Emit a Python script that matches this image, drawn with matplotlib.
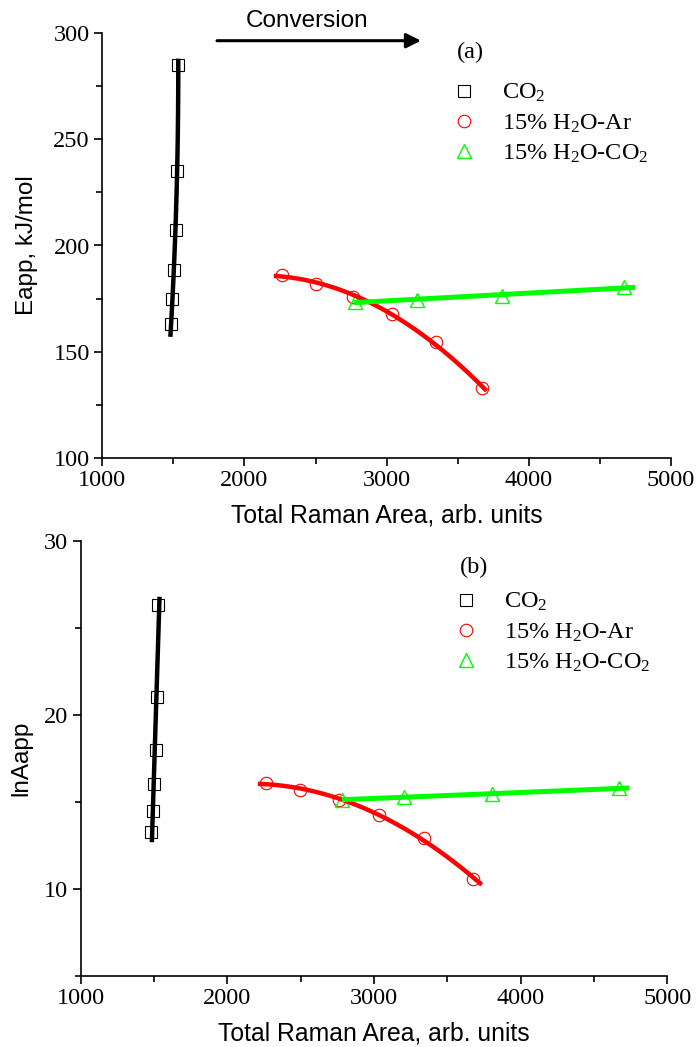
import numpy as np
import matplotlib.pyplot as plt
from matplotlib.ticker import MultipleLocator

plt.rcParams['font.family'] = ['Liberation Serif', 'DejaVu Serif']
plt.rcParams['mathtext.fontset'] = 'custom'
plt.rcParams['mathtext.rm'] = 'Liberation Serif'
plt.rcParams['mathtext.it'] = 'Liberation Serif:italic'

# (a) apparent activation energy
a_co2_x = [1483, 1492, 1506, 1516, 1523, 1535]
a_co2_y = [163.1, 174.7, 188.5, 207.4, 234.9, 285.2]
a_ar_x = [2266, 2501, 2761, 3040, 3345, 3673]
a_ar_y = [186.2, 181.8, 175.9, 167.6, 154.7, 132.7]
a_hc_x = [2777, 3211, 3809, 4672]
a_hc_y = [173.6, 174.4, 176.3, 180.4]
# fit line extents (CO2 by y, the others by x)
a_co2_fit = [158, 287]
a_ar_fit = [2222, 3692]
a_hc_fit = [2789, 4731]

# (b) ln of pre-exponential factor
b_co2_x = [1479, 1491, 1500, 1513, 1522, 1529]
b_co2_y = [13.24, 14.48, 16.0, 18.0, 21.0, 26.3]
b_ar_x = [2262, 2498, 2759, 3035, 3344, 3677]
b_ar_y = [16.09, 15.67, 15.10, 14.24, 12.9, 10.56]
b_hc_x = [2783, 3202, 3808, 4671]
b_hc_y = [15.10, 15.29, 15.44, 15.77]
b_co2_fit = [12.8, 26.65]
b_ar_fit = [2223, 3723]
b_hc_fit = [2798, 4723]

labels = ['CO$_2$', '15% H$_2$O-Ar', '15% H$_2$O-CO$_2$']
GREEN = '#00ff00'
RED = '#ff0000'

W, H = 697, 1047
fig = plt.figure(figsize=(W / 100, H / 100), dpi=100)


def fx(px):
    return px / W


def fy(py):
    return 1 - py / H


def panel(rect, co2, ar, hc, fits, co2_deg, hc_deg, ylim, ymaj, ymin_, ylabel, ypad, tag, leg_top):
    ax = fig.add_axes(rect)
    (cx, cy), (rx, ry), (gx, gy) = co2, ar, hc
    f_co2, f_ar, f_hc = fits

    kw = dict(linestyle='none', mfc='none', zorder=2)
    ax.plot(cx, cy, marker='s', ms=8, mec='black', mew=0.8, label=labels[0], **kw)
    ax.plot(rx, ry, marker='o', ms=9, mec=RED, mew=0.8, label=labels[1], **kw)
    ax.plot(gx, gy, marker='^', ms=10, mec=GREEN, mew=1.0, label=labels[2], **kw)

    # fitted curves
    yy = np.linspace(f_co2[0], f_co2[1], 100)
    ax.plot(np.polyval(np.polyfit(cy, cx, co2_deg), yy), yy, color='black', lw=3.2, zorder=3)
    xx = np.linspace(f_ar[0], f_ar[1], 100)
    ax.plot(xx, np.polyval(np.polyfit(rx, ry, 2), xx), color=RED, lw=3.2, zorder=3)
    xx = np.linspace(f_hc[0], f_hc[1], 100)
    ax.plot(xx, np.polyval(np.polyfit(gx, gy, hc_deg), xx), color=GREEN, lw=3.6, zorder=3)

    ax.set_xlim(1000, 5000)
    ax.set_ylim(*ylim)
    ax.xaxis.set_major_locator(MultipleLocator(1000))
    ax.xaxis.set_minor_locator(MultipleLocator(500))
    ax.yaxis.set_major_locator(MultipleLocator(ymaj))
    ax.yaxis.set_minor_locator(MultipleLocator(ymin_))
    for s in ['top', 'right']:
        ax.spines[s].set_visible(False)
    for s in ['left', 'bottom']:
        ax.spines[s].set_linewidth(1.2)
    ax.tick_params(which='major', direction='out', length=6, width=1.2, labelsize=17.5, pad=3)
    ax.tick_params(which='minor', direction='out', length=4, width=1.2)
    ax.set_xlabel('Total Raman Area, arb. units', family='Liberation Sans', fontsize=17.8, labelpad=9)
    ax.set_ylabel(ylabel, family='Liberation Sans', fontsize=17.5, labelpad=ypad)

    ax.text(tag[1], tag[2], tag[0], transform=fig.transFigure, fontsize=17.5,
            ha='center', va='center')
    ax.legend(loc='upper left', bbox_to_anchor=(fx(leg_top[0]), fy(leg_top[1])),
              bbox_transform=fig.transFigure, frameon=False, fontsize=17.5,
              handlelength=1.0, handletextpad=1.05, labelspacing=0.33,
              borderpad=0, borderaxespad=0)
    return ax


ax1 = panel([fx(102.3), fy(457.7), fx(671) - fx(102.3), fy(33.3) - fy(457.7)],
            (a_co2_x, a_co2_y), (a_ar_x, a_ar_y), (a_hc_x, a_hc_y),
            (a_co2_fit, a_ar_fit, a_hc_fit), 2, 1,
            (100, 300), 50, 25, 'Eapp, kJ/mol', 11, ('(a)', fx(470), fy(52)), (452, 82))
ax1.set_yticks([100, 150, 200, 250, 300])

ax2 = panel([fx(80.7), fy(975.7), fx(667.3) - fx(80.7), fy(540.7) - fy(975.7)],
            (b_co2_x, b_co2_y), (b_ar_x, b_ar_y), (b_hc_x, b_hc_y),
            (b_co2_fit, b_ar_fit, b_hc_fit), 1, 2,
            (5, 30), 10, 5, 'lnAapp', 8, ('(b)', fx(474), fy(567)), (454, 591))
ax2.set_yticks([10, 20, 30])

# conversion arrow
fig.text(fx(307), fy(21), 'Conversion', family='Liberation Sans', fontsize=17.5,
         ha='center', va='center')
ax1.annotate('', xy=(fx(421), fy(40.7)), xytext=(fx(217), fy(40.7)),
             xycoords='figure fraction', textcoords='figure fraction',
             arrowprops=dict(arrowstyle='-|>', lw=2.2, color='black', mutation_scale=22,
                             shrinkA=0, shrinkB=0))

fig.savefig('out.png', dpi=100)
